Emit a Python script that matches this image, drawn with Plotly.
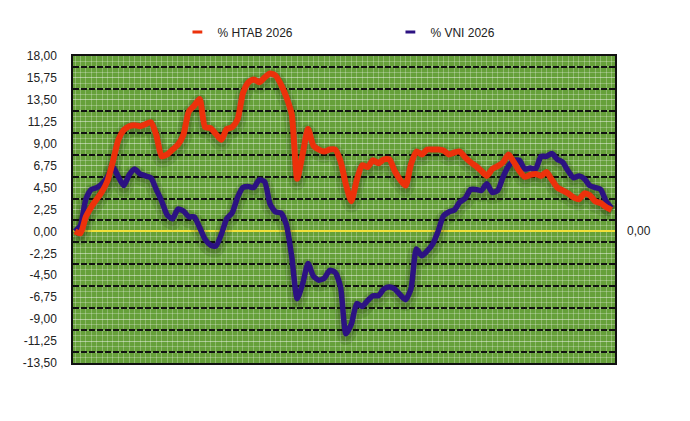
import plotly.graph_objects as go

days = list(range(100))

htab = [0.0, -0.2, 1.5, 2.5, 3.3, 4.1, 5.2, 7.2, 9.4, 10.4,
        10.8, 10.9, 10.8, 11.0, 11.2, 9.9, 7.7, 7.9, 8.4, 8.9,
        9.9, 12.3, 12.9, 13.6, 10.7, 10.6, 10.0, 9.4, 10.5, 10.7,
        11.5, 14.2, 15.3, 15.6, 15.3, 15.8, 16.2, 16.0, 15.1, 13.8,
        12.0, 5.4, 7.9, 10.5, 8.8, 8.4, 8.2, 8.4, 8.4, 7.2,
        4.8, 3.1, 5.3, 6.8, 6.6, 7.3, 7.0, 7.4, 7.4, 6.2,
        5.3, 4.7, 6.9, 8.2, 7.9, 8.4, 8.4, 8.4, 8.3, 7.9,
        8.1, 8.2, 7.6, 7.1, 6.7, 6.2, 5.7, 6.4, 6.7, 7.1,
        7.9, 7.1, 6.2, 5.6, 5.8, 5.9, 5.7, 6.1, 5.3, 4.5,
        4.2, 3.9, 3.5, 3.3, 3.9, 3.7, 3.1, 2.9, 2.5, 2.2]

vni = [0.0, 0.6, 3.3, 4.3, 4.5, 4.9, 5.6, 6.6, 5.6, 4.7,
       5.8, 6.4, 5.9, 5.7, 5.5, 4.3, 3.1, 1.7, 1.3, 2.3,
       2.1, 1.5, 1.5, 0.4, -0.8, -1.4, -1.5, -0.3, 1.3, 1.9,
       3.5, 4.5, 4.6, 4.5, 5.3, 5.1, 2.8, 2.0, 1.9, 0.7,
       -2.6, -6.9, -5.4, -3.3, -4.6, -5.0, -4.8, -4.0, -4.2, -5.7,
       -10.5, -9.5, -7.4, -7.7, -7.1, -6.6, -6.6, -5.9, -5.7, -5.9,
       -6.5, -7.0, -5.9, -1.8, -2.5, -2.0, -1.3, 0.0, 1.6, 2.0,
       2.2, 3.0, 3.4, 4.3, 4.3, 4.2, 4.9, 4.0, 4.2, 5.6,
       6.7, 7.3, 7.3, 6.4, 6.5, 6.4, 7.7, 7.7, 8.0, 7.4,
       7.1, 6.2, 5.5, 5.7, 5.4, 4.7, 4.5, 4.3, 3.1, 2.4]

tick_vals = [18.0, 15.75, 13.5, 11.25, 9.0, 6.75, 4.5, 2.25, 0.0,
             -2.25, -4.5, -6.75, -9.0, -11.25, -13.5]
tick_text = ["18,00", "15,75", "13,50", "11,25", "9,00", "6,75", "4,50", "2,25", "0,00",
             "-2,25", "-4,50", "-6,75", "-9,00", "-11,25", "-13,50"]

names = ["% HTAB 2026", "% VNI 2026"]
colors = ["#ec310b", "#2c1282"]

step = 2.25
fine = [tick_vals[-1] + k * step / 4 for k in range(int(31.5 / (step / 4)) + 1)]
mids = [v - step / 2 for v in tick_vals[:-1]]

fig = go.Figure()

# soft shadows (on base axis, underneath)
for ys in (vni, htab):
    fig.add_trace(go.Scatter(x=days, y=[v - 0.35 for v in ys], mode="lines", yaxis="y",
                             line=dict(color="rgba(20,30,10,0.12)", width=16, shape="spline", smoothing=0.6),
                             hoverinfo="skip", showlegend=False))
    fig.add_trace(go.Scatter(x=days, y=[v - 0.25 for v in ys], mode="lines", yaxis="y",
                             line=dict(color="rgba(20,30,10,0.14)", width=10, shape="spline", smoothing=0.6),
                             hoverinfo="skip", showlegend=False))

fig.add_trace(go.Scatter(x=days, y=vni, mode="lines", name=names[1], yaxis="y2",
                         line=dict(color=colors[1], width=5.5, shape="spline", smoothing=0.6),
                         showlegend=False))
fig.add_trace(go.Scatter(x=days, y=htab, mode="lines", name=names[0], yaxis="y2",
                         line=dict(color=colors[0], width=6, shape="spline", smoothing=0.6),
                         showlegend=False))

# legend entries (short dash samples)
for nm, c in zip(names, colors):
    fig.add_trace(go.Scatter(x=[None], y=[None], mode="markers", name=nm, yaxis="y2",
                             marker=dict(symbol="line-ew-open", size=7, color=c,
                                         line=dict(color=c, width=3))))

fig.add_annotation(x=1.018, y=0, xref="paper", yref="y", text="0,00", showarrow=False,
                   xanchor="left", yanchor="middle", font=dict(size=12, color="#222"))

fig.update_layout(
    width=690, height=421,
    margin=dict(l=73, r=75, t=56, b=58),
    paper_bgcolor="white",
    plot_bgcolor="#66a03a",
    font=dict(family="Liberation Sans, Arial, sans-serif", size=12, color="#222"),
    showlegend=True,
    legend=dict(orientation="h", x=0.1926, xanchor="left", y=1.078, yanchor="middle",
                entrywidth=168, entrywidthmode="pixels", font=dict(size=12, color="#222"),
                bgcolor="rgba(0,0,0,0)", itemsizing="trace"),
    xaxis=dict(range=[-0.37, 99.65], dtick=1, showticklabels=False, ticks="",
               showgrid=True, gridcolor="rgba(255,255,255,0.26)", gridwidth=1,
               zeroline=False, showline=True, mirror=True, linecolor="#111", linewidth=1.5),
    yaxis=dict(range=[-13.5, 18], tickvals=tick_vals, ticktext=tick_text, ticks="",
               ticklabelstandoff=12,
               showgrid=True, gridcolor="rgba(255,255,255,0.26)", gridwidth=1,
               minor=dict(tickvals=fine, showgrid=True, gridcolor="rgba(255,255,255,0.26)", gridwidth=1),
               zeroline=True, zerolinecolor="#f2e03a", zerolinewidth=1.5,
               showline=True, mirror=True, linecolor="#111", linewidth=1.5),
    yaxis2=dict(range=[-13.5, 18], overlaying="y", tickvals=mids, showticklabels=False, ticks="",
                showgrid=True, gridcolor="#111", gridwidth=1.8, griddash="6px,2px",
                zeroline=False, showline=False),
)

fig.write_html("out.html")
